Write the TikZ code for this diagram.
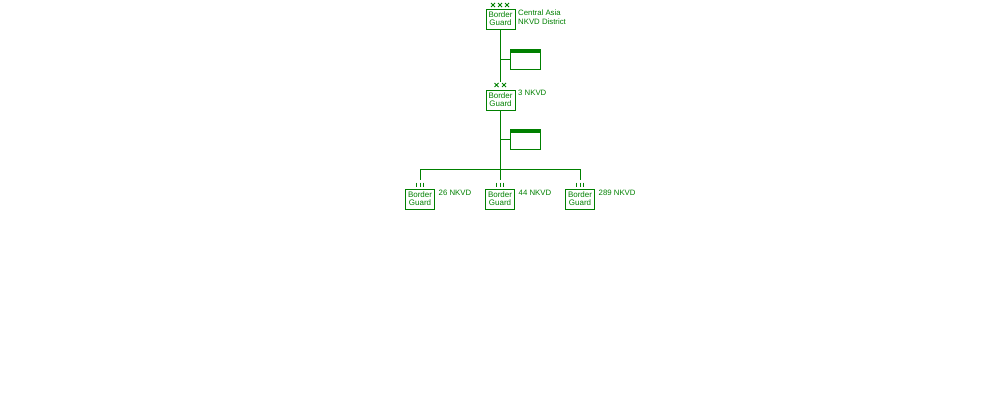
\documentclass[tikz,border=0pt]{standalone}
\usepackage{fontspec}
\setmainfont{Liberation Sans}
\definecolor{ug}{HTML}{008000}
\begin{document}
\begin{tikzpicture}[x=1pt,y=-1pt,
  unit/.style={draw=ug,line width=1pt,minimum width=29pt,minimum height=20pt,inner sep=0pt,align=center,text=ug,font=\fontsize{8}{8.2}\selectfont},
  lbl/.style={anchor=west,inner sep=0pt,align=left,text=ug,font=\fontsize{7.8}{9}\selectfont},
  link/.style={draw=ug,line width=1pt},
  echmark/.style={draw=ug,line width=0.8pt},
  hq/.style={draw=ug,line width=1pt,minimum width=30pt,minimum height=20pt,inner sep=0pt}]
\useasboundingbox (0,0) rectangle (1000,400);
% units
\node[unit] (dist) at (500.5,19) {Border\\Guard};
\node[unit] (c3) at (500.5,100) {Border\\Guard};
\node[unit] (b26) at (420,199) {Border\\Guard};
\node[unit] (b44) at (500,199) {Border\\Guard};
\node[unit] (b289) at (580,199) {Border\\Guard};
% labels
\node[lbl] (ldist) at (518,17.5) {Central Asia\\NKVD District};
\node[lbl] (lc3) at (518,92.5) {3 NKVD};
\node[lbl] (l26) at (438.5,192.5) {26 NKVD};
\node[lbl] (l44) at (518.5,192.5) {44 NKVD};
\node[lbl] (l289) at (598.5,192.5) {289 NKVD};
% HQ boxes
\node[hq] (hq1) at (525.5,59.5) {};
\node[hq] (hq2) at (525.5,139.5) {};
\fill[ug] (hq1.north west) rectangle ([yshift=-4pt]hq1.north east);
\fill[ug] (hq2.north west) rectangle ([yshift=-4pt]hq2.north east);
% echelon marks
\foreach \cx in {493,500,507} {
  \draw[echmark] (\cx-2,3) -- (\cx+2,7) (\cx-2,7) -- (\cx+2,3);}
\foreach \cx in {496.5,504} {
  \draw[echmark] (\cx-2,83) -- (\cx+2,87) (\cx-2,87) -- (\cx+2,83);}
\foreach \cx in {420,500,580} {
  \foreach \d in {-3.5,0,3.5} {
    \draw[echmark] (\cx+\d,182.5) -- (\cx+\d,186.5);}}
% connectors
\coordinate (j1) at (500.5,82);
\coordinate (t1) at (500.5,59.5);
\coordinate (t2) at (500.5,139.5);
\coordinate (bus) at (500.5,169.5);
\coordinate (busl) at (420.5,169.5);
\coordinate (busr) at (580.5,169.5);
\coordinate (d26) at (420.5,179.5);
\coordinate (d44) at (500.5,179.5);
\coordinate (d289) at (580.5,179.5);
\draw[link] (dist.south) -- (j1);
\draw[link] (t1) -- (hq1.west);
\draw[link] (c3.south) -- (bus);
\draw[link] (t2) -- (hq2.west);
\draw[link] (d26) -- (busl) -- (busr) -- (d289);
\draw[link] (bus) -- (d44);
\end{tikzpicture}
\end{document}
